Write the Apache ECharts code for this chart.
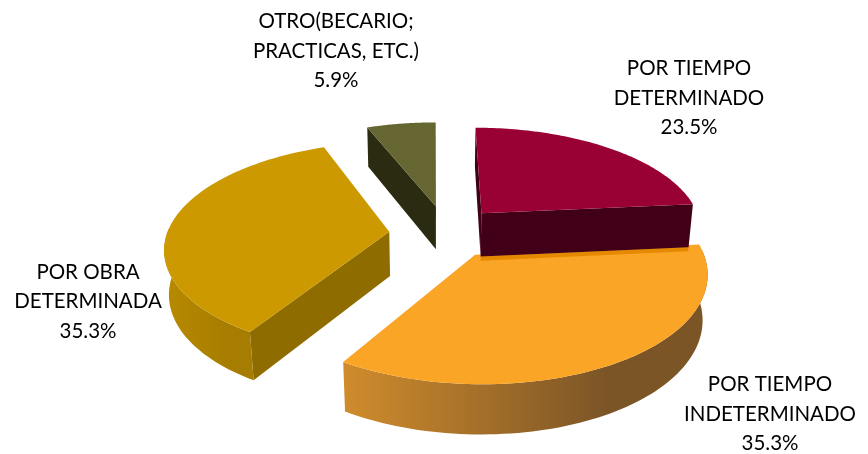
<!DOCTYPE html>
<html>
<head>
<meta charset="utf-8">
<style>
html, body { margin: 0; padding: 0; background: #fff; }
#main { width: 868px; height: 454px; }
</style>
<script src="https://cdn.jsdelivr.net/npm/echarts@6/dist/echarts.min.js"></script>
</head>
<body>
<div id="main"></div>
<script>
var categories = ['POR TIEMPO\nDETERMINADO', 'POR TIEMPO\nINDETERMINADO', 'POR OBRA\nDETERMINADA', 'OTRO(BECARIO;\nPRACTICAS, ETC.)'];
var shares = [23.5, 35.3, 35.3, 5.9];

// colours and layout of each slice, same order as categories
var topColors = ['#990033', '#fba526', '#cc9900', '#666633'];
var wallColors = ['#420018', '#7c5527', '#8f6c00', '#2b2b12'];
var arcColors = [['#420018', '#420018'], ['#d08c2c', '#7c5527'], ['#b88a00', '#a67d00'], ['#2b2b12', '#2b2b12']];
var offsets = [[49, 50], [40, -39], [-45, 9], [2, 66]]; // how far each slice is pulled out of the pie
var labelSpots = [[689, 98], [770, 414], [88, 301.5], [336, 51]];
var drawOrder = [1, 2, 3, 0];

// the tilted view
var midX = 434, midY = 236, radius = 223, thickness = 51, camera = 1340, tilt = 0.468;
var cosTilt = Math.sqrt(1 - tilt * tilt);

function project(x, z, h) {
    var s = camera / (camera + z * cosTilt - h * tilt);
    return [midX + x * s, midY - (z * tilt + h * cosTilt) * s];
}

function area(pts) {
    var sum = 0;
    for (var i = 0; i < pts.length; i++) {
        var a = pts[i], b = pts[(i + 1) % pts.length];
        sum += a[0] * b[1] - b[0] * a[1];
    }
    return sum;
}

function polygon(pts, fill, z2) {
    return { type: 'polygon', shape: { points: pts }, style: { fill: fill }, z2: z2, silent: true };
}

var total = 0;
shares.forEach(function (v) { total += v; });

var rows = [];
var running = 0;
shares.forEach(function (v, i) {
    rows.push([running, v, i]);
    running += v;
});

function renderSlice(params, api) {
    var i = api.value(2);
    var from = api.value(0) / total * Math.PI * 2;
    var to = (api.value(0) + api.value(1)) / total * Math.PI * 2;
    var ox = offsets[i][0], oz = offsets[i][1];
    var base = drawOrder.indexOf(i) * 10;
    var children = [];

    var top = [project(ox, oz, 0)];
    var arcTop = [], arcBottom = [];
    var steps = 80;
    for (var k = 0; k <= steps; k++) {
        var a = from + (to - from) * k / steps;
        var x = ox + radius * Math.sin(a), z = oz + radius * Math.cos(a);
        top.push(project(x, z, 0));
        if (Math.cos(a) < 0.05) {
            arcTop.push(project(x, z, 0));
            arcBottom.unshift(project(x, z, -thickness));
        }
    }

    // flat sides, only the ones turned to the viewer
    [from, to].forEach(function (a, n) {
        var x = ox + radius * Math.sin(a), z = oz + radius * Math.cos(a);
        var side = [project(ox, oz, 0), project(x, z, 0), project(x, z, -thickness), project(ox, oz, -thickness)];
        var facing = area(side) * (n === 0 ? -1 : 1) > 0;
        if (facing) {
            children.push(polygon(side, wallColors[i], base + 2));
            // darker strip the red wall leaves on the orange slice
            if (i === 0 && n === 1) {
                children.push(polygon([
                    project(ox, oz, -thickness), project(x, z, -thickness),
                    project(x, z, -thickness - 5), project(ox, oz, -thickness - 5)
                ], '#e58a00', base + 1));
            }
        }
    });

    if (arcTop.length > 1) {
        children.push(polygon(arcTop.concat(arcBottom), {
            type: 'linear', x: 0, y: 0, x2: 1, y2: 0,
            colorStops: [
                { offset: 0, color: arcColors[i][0] },
                { offset: 0.72, color: arcColors[i][1] },
                { offset: 1, color: arcColors[i][1] }
            ]
        }, base + 3));
    }
    children.push(polygon(top, topColors[i], base + 4));

    children.push({
        type: 'text',
        x: labelSpots[i][0],
        y: labelSpots[i][1],
        z2: 100,
        silent: true,
        style: {
            text: categories[i] + '\n' + shares[i].toFixed(1) + '%',
            fill: '#000',
            font: '20.5px Lato',
            lineHeight: 29.5,
            align: 'center',
            verticalAlign: 'middle'
        }
    });

    return { type: 'group', children: children };
}

var myChart = echarts.init(document.getElementById('main'), null, { renderer: 'canvas' });
myChart.setOption({
    backgroundColor: '#fff',
    animation: false,
    series: [{
        type: 'custom',
        coordinateSystem: 'none',
        renderItem: renderSlice,
        data: rows
    }]
});
</script>
</body>
</html>
